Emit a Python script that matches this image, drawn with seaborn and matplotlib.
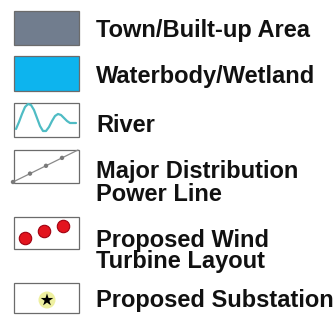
import matplotlib
matplotlib.use("Agg")
import matplotlib.pyplot as plt
from matplotlib.patches import Rectangle
import seaborn as sns
import pandas as pd

sns.set_style("white")
plt.rcParams['font.family'] = ['Liberation Sans', 'DejaVu Sans']

# Legend entries (label lines)
label_lines = [
    ["Town/Built-up Area"],
    ["Waterbody/Wetland"],
    ["River"],
    ["Major Distribution", "Power Line"],
    ["Proposed Wind", "Turbine Layout"],
    ["Proposed Substation"],
]
box_fill = ["#717d8e", "#0db4ee", "white", "white", "white", "white"]

# River symbol path
river_x = [16, 19, 22, 25, 28, 31, 34, 37, 40, 43, 46, 49, 52, 55, 58, 61, 64, 67, 70, 73, 76]
river_y = [129, 122, 114, 107, 104, 105, 110, 118, 126, 131, 131, 127, 121, 116, 114, 115, 118, 121, 123, 123, 123]

# Power line symbol
power_x = [13, 78]
power_y = [182, 150]
pole_x = [13, 30, 46, 62]
pole_y = [182, 173.6, 165.8, 157.9]

# Turbines
turb_x = [25, 44, 63]
turb_y = [238, 231, 226]

# Substation
sub_x = [47]
sub_y = [300]

fig = plt.figure(figsize=(3.34, 3.18), dpi=100)
ax = fig.add_axes([0, 0, 1, 1])
ax.set_xlim(0, 334)
ax.set_ylim(318, 0)
ax.axis("off")

# boxes: (top, bottom)
box_rows = [(11, 45), (56, 91), (103, 137), (150, 183), (217, 249), (283, 313)]
for (t, b), fc in zip(box_rows, box_fill):
    ax.add_patch(Rectangle((14, t), 65, b - t, facecolor=fc, edgecolor="#6b6b6b", lw=0.9, zorder=1))

sns.lineplot(x=river_x, y=river_y, ax=ax, color="#4fbcc4", lw=1.6, sort=False, zorder=3)
sns.lineplot(x=power_x, y=power_y, ax=ax, color="#8a8a8a", lw=0.9, zorder=3)
sns.scatterplot(x=pole_x, y=pole_y, ax=ax, color="#7a7a7a", s=10, edgecolor="none", zorder=4)
sns.scatterplot(x=turb_x, y=turb_y, ax=ax, color="#e3141e", s=80, edgecolor="#a00010", linewidth=0.8, zorder=4)
sns.scatterplot(x=sub_x, y=sub_y, ax=ax, color="#eef0a0", s=150, edgecolor="none", zorder=4)
sns.scatterplot(x=sub_x, y=sub_y, ax=ax, color="black", marker="*", s=90, edgecolor="none", zorder=5)

baselines = [[37], [83], [132], [178, 201], [247, 268], [307]]
for lines, bls in zip(label_lines, baselines):
    for txt, bl in zip(lines, bls):
        ax.text(96, bl, txt, fontsize=17, fontweight="bold", color="#111111",
                ha="left", va="baseline")

fig.savefig("out.png", dpi=100)
